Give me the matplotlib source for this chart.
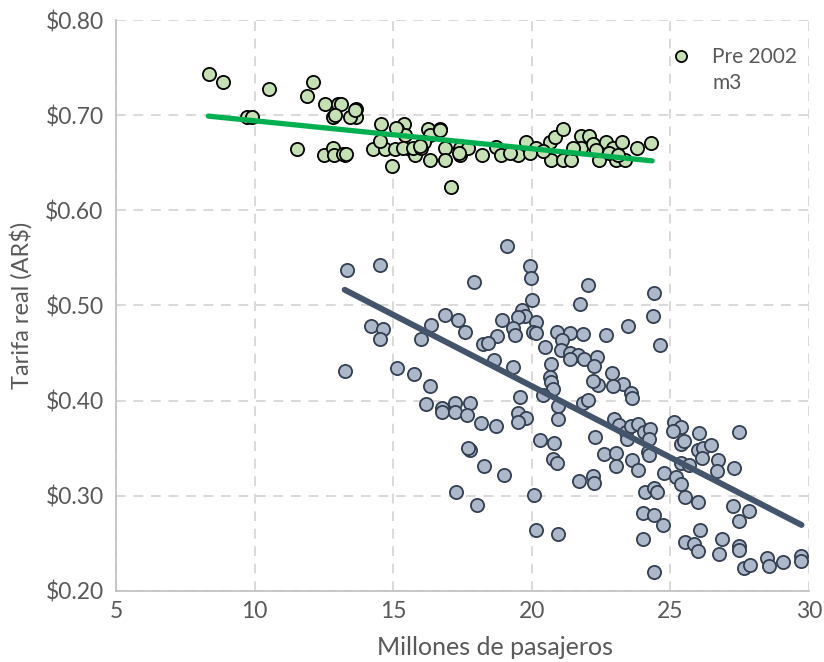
import numpy as np
import matplotlib.pyplot as plt
from matplotlib.lines import Line2D

# -------------------------
# Data
# -------------------------

# Pre 2002 (green)
pre_x = [8.35, 8.87, 10.51, 12.11, 11.88, 12.55, 13.01, 13.10, 13.67, 13.67, 13.43,
         12.82, 12.90, 9.72, 9.90, 14.57, 15.39, 15.13, 15.41, 11.53, 12.50, 12.84,
         12.86, 13.27, 14.27, 14.69, 15.05, 14.51, 14.96, 15.60, 15.80, 15.77,
         15.35, 15.71, 16.25, 16.70, 16.32, 16.02, 16.32, 16.86, 16.86, 17.40,
         17.40, 17.70, 17.07, 18.21, 18.71, 18.90, 19.50, 19.80, 20.16, 20.64,
         20.82, 21.12, 20.70, 21.12, 21.42, 21.78, 22.05, 21.78, 22.19, 22.67,
         22.44, 23.04, 23.38, 22.92, 23.26, 23.80, 24.30, 22.32, 21.48, 13.19,
         13.31, 13.61, 15.11, 16.68, 17.37, 16.10, 15.95, 19.20, 19.95, 20.40,
         22.80, 23.10]
pre_y = [0.743, 0.735, 0.727, 0.735, 0.720, 0.712, 0.712, 0.712, 0.706, 0.698, 0.698,
         0.698, 0.700, 0.698, 0.698, 0.691, 0.691, 0.685, 0.679, 0.664, 0.658, 0.665,
         0.658, 0.658, 0.664, 0.664, 0.664, 0.673, 0.647, 0.664, 0.662, 0.658,
         0.665, 0.666, 0.685, 0.685, 0.679, 0.665, 0.653, 0.665, 0.653, 0.665,
         0.658, 0.665, 0.624, 0.658, 0.667, 0.658, 0.658, 0.672, 0.666, 0.672,
         0.677, 0.685, 0.653, 0.653, 0.653, 0.678, 0.678, 0.666, 0.670, 0.672,
         0.653, 0.653, 0.653, 0.665, 0.672, 0.665, 0.671, 0.663, 0.665, 0.659,
         0.659, 0.705, 0.686, 0.684, 0.660, 0.672, 0.668, 0.660, 0.660, 0.662,
         0.660, 0.658]

# Post 2002 (grey-blue)
post_x = [13.34, 14.51, 17.91, 14.19, 14.63, 14.51, 16.02, 16.38, 16.86, 17.35, 17.60,
          18.23, 13.25, 15.15, 15.75, 16.32, 16.19, 16.77, 17.23, 17.76, 16.77, 17.22,
          17.66, 18.18, 17.76, 17.70, 18.26, 17.27, 18.02,
          19.11, 19.94, 19.98, 22.02, 21.75, 20.00, 19.65, 19.74, 19.50, 20.16, 18.92,
          19.32, 19.38, 18.75, 18.42, 20.04, 20.16, 20.91, 21.39, 21.86, 22.68, 23.46,
          21.08, 20.48, 21.05, 21.39, 21.66, 21.90, 22.36, 21.39, 22.26, 18.63, 19.32,
          20.70, 20.64, 20.68, 20.76, 19.56, 20.40, 20.96, 22.90, 23.28, 22.92, 22.38,
          22.20, 23.58, 23.60, 21.84, 22.02,
          19.50, 19.80, 19.50, 18.72, 20.96, 20.28, 20.79, 20.76, 20.91, 18.99,
          20.07, 20.16, 20.96, 21.72, 22.20, 22.24, 22.29, 22.62, 23.04, 23.04, 23.60,
          23.82, 22.98, 23.16, 23.40, 23.58, 23.82, 24.06, 23.43, 24.10, 24.00, 24.00,
          25.14, 25.38, 25.08, 24.28, 24.24, 24.18, 24.24, 26.02, 27.48, 25.38, 25.50,
          25.98, 26.16, 26.46, 26.13, 26.73, 26.68, 27.31, 25.40, 25.68, 24.78, 25.20,
          25.38, 25.52, 25.98, 24.42, 24.52, 24.42, 24.72, 24.42, 27.25,
          27.82, 27.46, 26.05, 25.52, 25.84, 26.01, 26.85, 26.77, 27.48, 27.46, 27.64,
          27.88, 28.48, 28.57, 29.05, 29.71, 29.71,
          24.40, 24.36, 24.64]
post_y = [0.537, 0.543, 0.525, 0.478, 0.475, 0.465, 0.465, 0.480, 0.490, 0.485, 0.472,
          0.460, 0.431, 0.434, 0.428, 0.415, 0.396, 0.392, 0.398, 0.398, 0.388, 0.388,
          0.385, 0.377, 0.348, 0.350, 0.331, 0.304, 0.290,
          0.563, 0.542, 0.529, 0.522, 0.502, 0.506, 0.495, 0.489, 0.488, 0.483, 0.485,
          0.476, 0.469, 0.468, 0.461, 0.472, 0.471, 0.472, 0.471, 0.470, 0.469, 0.478,
          0.464, 0.456, 0.453, 0.450, 0.448, 0.444, 0.446, 0.444, 0.436, 0.443, 0.435,
          0.439, 0.425, 0.420, 0.412, 0.404, 0.406, 0.394, 0.429, 0.418, 0.415, 0.416,
          0.421, 0.408, 0.403, 0.398, 0.401,
          0.387, 0.382, 0.378, 0.373, 0.381, 0.359, 0.356, 0.339, 0.334, 0.322,
          0.301, 0.264, 0.260, 0.316, 0.321, 0.314, 0.362, 0.344, 0.345, 0.331, 0.338,
          0.327, 0.381, 0.374, 0.367, 0.373, 0.376, 0.367, 0.360, 0.304, 0.282, 0.255,
          0.378, 0.372, 0.368, 0.370, 0.360, 0.346, 0.343, 0.366, 0.367, 0.354, 0.358,
          0.348, 0.350, 0.353, 0.340, 0.338, 0.326, 0.329, 0.335, 0.332, 0.324, 0.320,
          0.312, 0.299, 0.294, 0.308, 0.304, 0.280, 0.269, 0.220, 0.289,
          0.284, 0.274, 0.264, 0.251, 0.249, 0.242, 0.255, 0.239, 0.247, 0.243, 0.224,
          0.227, 0.235, 0.226, 0.230, 0.237, 0.231,
          0.513, 0.489, 0.459]

# trend lines (end points)
pre_trend_x = [8.33, 24.34]
pre_trend_y = [0.699, 0.652]
post_trend_x = [13.25, 29.73]
post_trend_y = [0.5165, 0.2694]

xticks = [5, 10, 15, 20, 25, 30]
yticks = [0.20, 0.30, 0.40, 0.50, 0.60, 0.70, 0.80]

# -------------------------
# Plot
# -------------------------

plt.rcParams['font.family'] = ['Lato', 'DejaVu Sans']
TXT = '#595959'

fig = plt.figure(figsize=(8.24, 6.62), dpi=100)
ax = fig.add_axes([116/824, 71/662, 693/824, 571/662])

ax.scatter(pre_x, pre_y, s=90, facecolor='#c5e0b4', edgecolor='black',
           linewidths=1.3, zorder=3)
ax.scatter(post_x, post_y, s=90, facecolor='#adb9ca', edgecolor='#333f50',
           linewidths=1.3, zorder=3)
ax.plot(pre_trend_x, pre_trend_y, color='#00b050', lw=3.8, solid_capstyle='round', zorder=4)
ax.plot(post_trend_x, post_trend_y, color='#44546a', lw=4.3, solid_capstyle='round', zorder=4)

ax.set_xlim(5, 30)
ax.set_ylim(0.20, 0.80)
ax.set_xticks(xticks)
ax.set_yticks(yticks)
ax.set_yticklabels([f'${v:.2f}' for v in yticks])
ax.tick_params(length=0, labelsize=16.5, colors=TXT)
ax.tick_params(axis='y', pad=9)
ax.tick_params(axis='x', pad=7)

ax.grid(True, color='#d9d9d9', linestyle=(0, (5, 4)), linewidth=1.4, zorder=0)
ax.set_axisbelow(True)
for s in ['top', 'right']:
    ax.spines[s].set_visible(False)
for s in ['left', 'bottom']:
    ax.spines[s].set_color('#bfbfbf')
    ax.spines[s].set_linewidth(1.2)

ax.set_xlabel('Millones de pasajeros', fontsize=18, color=TXT)
ax.xaxis.set_label_coords(0.547, -0.078)
ax.set_ylabel('Tarifa real (AR$)', fontsize=17, color=TXT)
ax.yaxis.set_label_coords(-0.121, 0.5)

handles = [Line2D([], [], marker='o', ls='none', markersize=8, markerfacecolor='#c5e0b4',
                  markeredgecolor='black', markeredgewidth=1.3),
           Line2D([], [], ls='none')]
leg = ax.legend(handles, ['Pre 2002', 'm3'], loc='upper right', frameon=False,
                fontsize=15, bbox_to_anchor=(1.01, 0.985), handletextpad=0.5,
                labelspacing=0.25)
for t in leg.get_texts():
    t.set_color(TXT)

fig.savefig('out.png', dpi=100)
